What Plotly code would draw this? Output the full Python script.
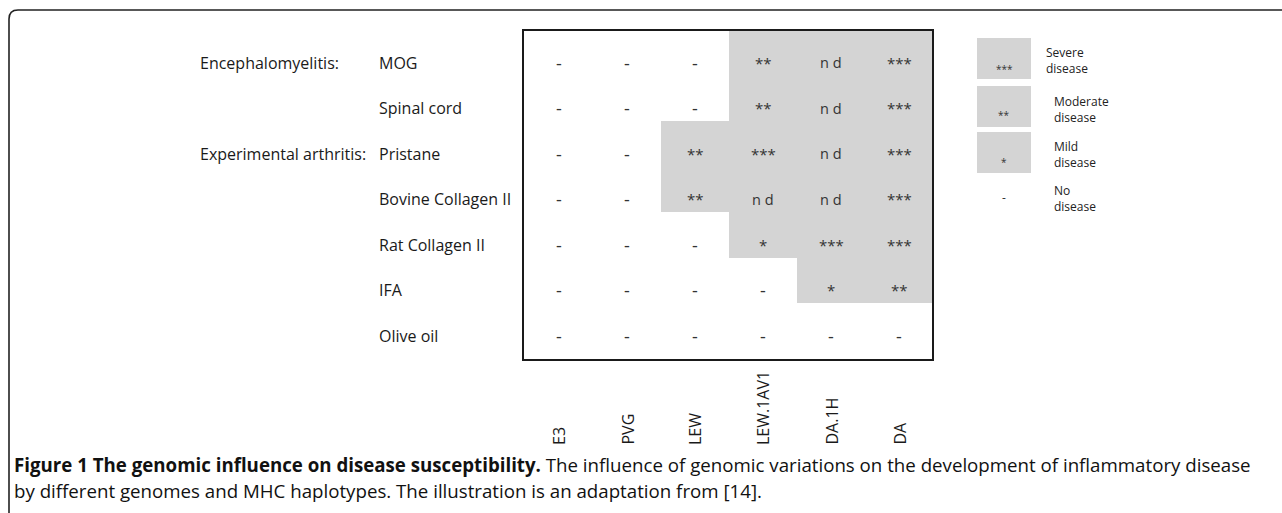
import plotly.graph_objects as go

W, H = 1282, 513

strains = ["E3", "PVG", "LEW", "LEW.1AV1", "DA.1H", "DA"]
models = ["MOG", "Spinal cord", "Pristane", "Bovine Collagen II",
          "Rat Collagen II", "IFA", "Olive oil"]
groups = ["Encephalomyelitis:", "", "Experimental arthritis:", "", "", "", ""]
scores = [
    ["-", "-", "-", "**", "n d", "***"],
    ["-", "-", "-", "**", "n d", "***"],
    ["-", "-", "**", "***", "n d", "***"],
    ["-", "-", "**", "n d", "n d", "***"],
    ["-", "-", "-", "*", "***", "***"],
    ["-", "-", "-", "-", "*", "**"],
    ["-", "-", "-", "-", "-", "-"],
]
legend_marks = ["***", "**", "*", "-"]
legend_labels = ["Severe<br>disease", "Moderate<br>disease", "Mild<br>disease", "No<br>disease"]
caption1 = ("<b>Figure 1 The genomic influence on disease susceptibility.</b> "
            "The influence of genomic variations on the development of inflammatory disease")
caption2 = "by different genomes and MHC haplotypes. The illustration is an adaptation from [14]."


def px(x):
    return x / W


def py(y):
    return 1 - y / H


shaded = [[0 if v == "-" else 1 for v in row] for row in scores]

fig = go.Figure()
fig.add_trace(go.Heatmap(
    z=shaded, x=list(range(len(strains))), y=list(range(len(models))),
    colorscale=[[0, "white"], [1, "#d4d4d4"]], zmin=0, zmax=1,
    showscale=False, hoverinfo="skip"))

LABEL_FONT = dict(family="Open Sans, sans-serif", size=16, color="#1a1a1a")
CELL_FONT = dict(family="Open Sans, sans-serif", size=14, color="#333333")

ann = []
for i, row in enumerate(scores):
    for j, v in enumerate(row):
        if v.startswith("*"):
            size, shift = 15, -10
        elif v == "-":
            size, shift = 18, -10
        else:
            size, shift = 14.5, -10
        ann.append(dict(x=j, y=i, xref="x", yref="y", text=v, showarrow=False,
                        xanchor="center", yanchor="middle", yshift=shift,
                        font=dict(CELL_FONT, size=size)))
for i, m in enumerate(models):
    ann.append(dict(x=px(377), y=i, xref="paper", yref="y", text=m, showarrow=False,
                    xanchor="left", yanchor="middle", yshift=-10, font=LABEL_FONT))
    if groups[i]:
        ann.append(dict(x=px(198), y=i, xref="paper", yref="y", text=groups[i],
                        showarrow=False, xanchor="left", yanchor="middle", yshift=-10,
                        font=LABEL_FONT))
for j, s in enumerate(strains):
    ann.append(dict(x=j, y=py(447), xref="x", yref="paper", text=s, showarrow=False,
                    textangle=-90, xanchor="center", yanchor="bottom", font=LABEL_FONT))

# legend
box_tops = [38, 86, 132]
mark_y = [69, 115, 162, 197]
label_y = [60, 109, 154, 199]
label_x = [1044, 1052, 1052, 1052]
shapes = []
for t in box_tops:
    shapes.append(dict(type="rect", xref="paper", yref="paper",
                       x0=px(977), x1=px(1031), y0=py(t + 41), y1=py(t),
                       fillcolor="#d4d4d4", line=dict(width=0), layer="below"))
for k, (mk, lb) in enumerate(zip(legend_marks, legend_labels)):
    ann.append(dict(x=px(1004), y=py(mark_y[k]), xref="paper", yref="paper", text=mk,
                    showarrow=False, xanchor="center", yanchor="middle",
                    font=dict(family="Open Sans, sans-serif", size=10 if mk != "-" else 12,
                              color="#333")))
    ann.append(dict(x=px(label_x[k]), y=py(label_y[k]), xref="paper", yref="paper", text=lb,
                    showarrow=False, xanchor="left", yanchor="middle", align="left",
                    font=dict(family="Open Sans, sans-serif", size=12, color="#222")))

# caption
ann.append(dict(x=px(12), y=py(464), xref="paper", yref="paper", text=caption1,
                showarrow=False, xanchor="left", yanchor="middle",
                font=dict(family="Open Sans, sans-serif", size=18.7, color="#111")))
ann.append(dict(x=px(12), y=py(490), xref="paper", yref="paper", text=caption2,
                showarrow=False, xanchor="left", yanchor="middle",
                font=dict(family="Open Sans, sans-serif", size=18.7, color="#111")))

# table frame
shapes.append(dict(type="rect", xref="paper", yref="paper",
                   x0=px(523), x1=px(933), y0=py(360), y1=py(30),
                   line=dict(color="#1a1a1a", width=2)))
# outer figure frame
path = (f"M {px(9)},{py(513)} L {px(9)},{py(19)} Q {px(9)},{py(10)} {px(18)},{py(10)} "
        f"L {px(1282)},{py(10)}")
shapes.append(dict(type="path", xref="paper", yref="paper", path=path,
                   line=dict(color="#222", width=1.6)))

fig.update_layout(
    width=W, height=H, margin=dict(l=0, r=0, t=0, b=0),
    paper_bgcolor="white", plot_bgcolor="white",
    xaxis=dict(domain=[px(525), px(933)], range=[-0.5, 5.5], visible=False),
    yaxis=dict(domain=[py(348.5), py(30)], range=[6.5, -0.5], visible=False),
    annotations=ann, shapes=shapes, showlegend=False)

fig.write_html("out.html", config={"displayModeBar": False},
               post_script="document.body.style.margin='0';document.body.style.overflow='hidden';")
